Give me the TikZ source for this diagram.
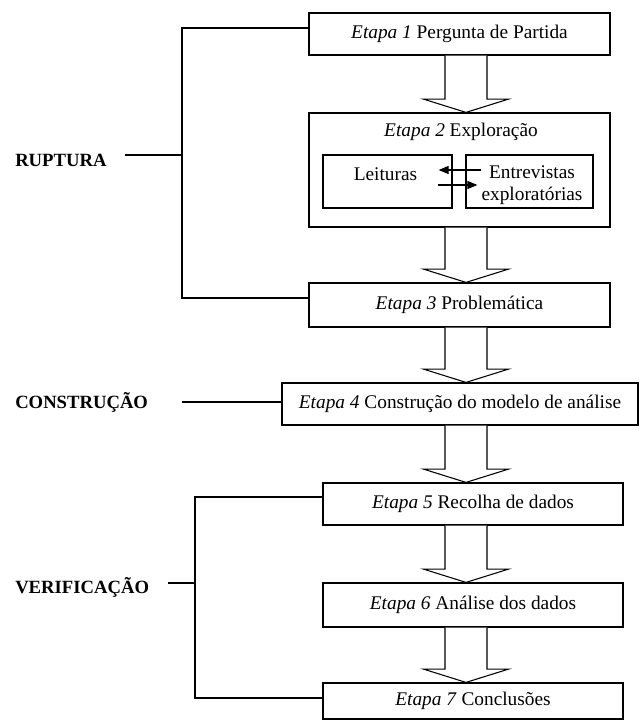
\documentclass[tikz,border=0pt]{standalone}
\usepackage{fontspec}
\setmainfont{Liberation Serif}
\usetikzlibrary{calc,arrows.meta}
\begin{document}
\begin{tikzpicture}[x=0.75pt,y=-0.75pt,
  stagebox/.style 2 args={draw, line width=0.9pt, inner sep=0pt, minimum width=#1*0.75pt, minimum height=#2*0.75pt, font=\fontsize{14.5}{16.5}\selectfont},
  txt/.style={inner sep=0pt, font=\fontsize{14.5}{16.5}\selectfont, align=center},
  phase/.style={inner sep=0pt, anchor=west, font=\fontsize{14}{16}\selectfont\bfseries},
  bracket/.style={line width=2pt},
  blockarrow/.style={line width=0.8pt, fill=white},
  smallarrow/.style={line width=0.9pt, -{Triangle[length=7.5pt,width=6pt]}}
]
\useasboundingbox (0,0) rectangle (643,720);
\coordinate (ax) at (466,0);

% stage boxes
\node[stagebox={301}{42}] (b1) at (459.5,34) {\textit{Etapa 1} Pergunta de Partida};
\node[stagebox={301}{114}] (b2) at (459.5,170) {};
\node[txt] (t2) at (461,132) {\textit{Etapa 2} Exploração};
\node[stagebox={129}{53}] (lei) at (387.5,181.5) {};
\node[txt] (tlei) at (385.5,174) {Leituras};
\node[stagebox={127}{53}] (ent) at (529.5,181.5) {};
\node[txt] (tent) at (532,185.5) {Entrevistas\\exploratórias};
\node[stagebox={301}{44}] (b3) at (459.5,305) {\textit{Etapa 3} Problemática};
\node[stagebox={356}{42}] (b4) at (460,404) {\textit{Etapa 4} Construção do modelo de análise};
\node[stagebox={300}{42}] (b5) at (473,504) {\textit{Etapa 5} Recolha de dados};
\node[stagebox={300}{44}] (b6) at (473,605) {\textit{Etapa 6} Análise dos dados};
\node[stagebox={300}{36}] (b7) at (473,701) {\textit{Etapa 7} Conclusões};

% small arrows between Leituras and Entrevistas
\draw[smallarrow] ($(ent.west)+(16,-11.5)$) -- ($(lei.east)+(-14,-11.5)$);
\draw[smallarrow] ($(lei.east)+(-15,3.5)$) -- ($(ent.west)+(12,3.5)$);

% block arrows
\newcommand{\blockarr}[2]{%
  \draw[blockarrow] let \p1=(#1.south -| ax), \p2=(#2.north -| ax) in
    (\x1-15.75pt,\y1) -- (\x1-15.75pt,\y2+10pt) -- (\x1-32pt,\y2+10pt) -- (\p2)
    -- (\x1+32pt,\y2+10pt) -- (\x1+15.75pt,\y2+10pt) -- (\x1+15.75pt,\y1);}
\blockarr{b1}{b2}
\blockarr{b2}{b3}
\blockarr{b3}{b4}
\blockarr{b4}{b5}
\blockarr{b5}{b6}
\blockarr{b6}{b7}

% phase labels
\node[phase] (pR) at (15,160) {RUPTURA};
\node[phase] (pC) at (15,402) {CONSTRUÇÃO};
\node[phase] (pV) at (15,587) {VERIFICAÇÃO};

% RUPTURA bracket
\coordinate (rt) at (182,28);
\coordinate (rb) at (182,298);
\coordinate (rm) at (182,155);
\coordinate (rtick) at (125,155);
\draw[bracket] (b1.west |- rt) -- (rt) -- (rb) -- (b3.west |- rb);
\draw[bracket] (rtick) -- (rm);

% CONSTRUCAO line
\coordinate (ctick) at (182,402);
\draw[bracket] (ctick) -- (b4.west |- ctick);

% VERIFICACAO bracket
\coordinate (vt) at (195,497);
\coordinate (vb) at (195,698);
\coordinate (vm) at (195,583);
\coordinate (vtick) at (168,583);
\draw[bracket] (b5.west |- vt) -- (vt) -- (vb) -- (b7.west |- vb);
\draw[bracket] (vtick) -- (vm);
\end{tikzpicture}
\end{document}
